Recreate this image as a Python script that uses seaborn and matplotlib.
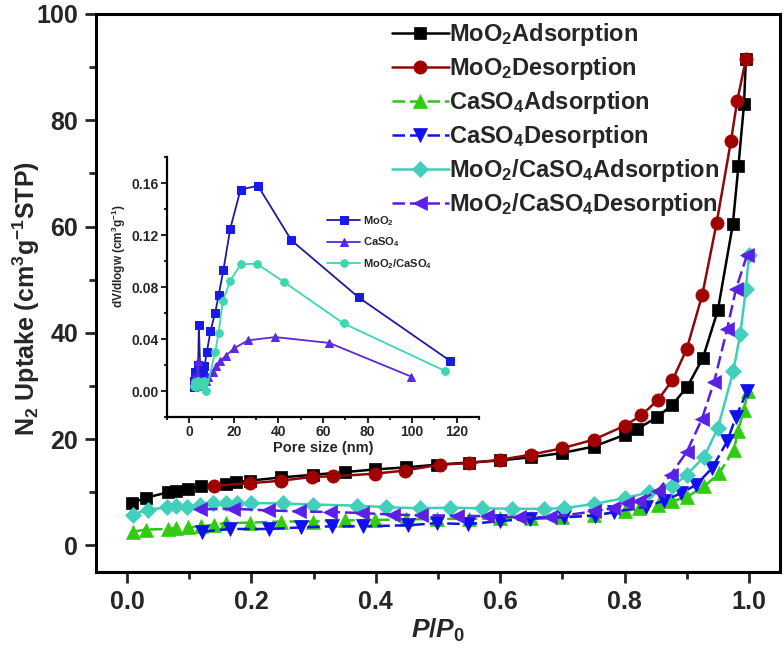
import matplotlib
matplotlib.use("Agg")
import matplotlib.pyplot as plt
import seaborn as sns
from matplotlib.ticker import MultipleLocator, FormatStrFormatter

# N2 isotherms (P/P0, uptake)
moo2_ads_x = [0.008, 0.031, 0.066, 0.079, 0.098, 0.119, 0.159, 0.175, 0.198, 0.248,
              0.299, 0.350, 0.398, 0.449, 0.498, 0.550, 0.600, 0.650, 0.700, 0.750,
              0.800, 0.820, 0.852, 0.877, 0.901, 0.926, 0.950, 0.974, 0.983, 0.992, 0.995]
moo2_ads_y = [8.0, 9.0, 10.0, 10.3, 10.6, 11.1, 11.6, 11.9, 12.2, 12.8,
              13.3, 13.8, 14.3, 14.7, 15.2, 15.6, 16.0, 16.6, 17.4, 18.6,
              20.8, 21.9, 24.1, 26.5, 29.9, 35.3, 44.3, 60.4, 71.4, 83.0, 91.5]
moo2_des_x = [0.995, 0.981, 0.971, 0.948, 0.925, 0.900, 0.877, 0.853, 0.827, 0.800,
              0.750, 0.700, 0.650, 0.599, 0.550, 0.503, 0.447, 0.398, 0.331, 0.298,
              0.248, 0.198, 0.139]
moo2_des_y = [91.5, 83.6, 76.1, 60.7, 47.2, 37.0, 31.1, 27.3, 24.5, 22.5,
              19.9, 18.3, 17.1, 16.1, 15.5, 15.2, 14.1, 13.5, 13.0, 12.9,
              12.2, 11.7, 11.2]
caso4_ads_x = [0.009, 0.031, 0.066, 0.079, 0.098, 0.119, 0.139, 0.159, 0.198, 0.248,
               0.299, 0.350, 0.398, 0.449, 0.498, 0.550, 0.600, 0.650, 0.700, 0.750,
               0.800, 0.823, 0.853, 0.877, 0.901, 0.928, 0.952, 0.976, 0.982, 0.992, 0.998]
caso4_ads_y = [2.6, 3.0, 3.1, 3.3, 3.4, 3.6, 3.9, 4.2, 4.3, 4.5,
               4.5, 4.7, 4.8, 4.9, 5.0, 5.0, 5.1, 5.2, 5.4, 5.7,
               6.4, 7.0, 7.7, 8.3, 9.2, 11.1, 13.6, 18.0, 21.5, 25.5, 29.0]
caso4_des_x = [0.997, 0.979, 0.965, 0.941, 0.915, 0.890, 0.863, 0.834, 0.783, 0.753,
               0.702, 0.648, 0.600, 0.549, 0.499, 0.452, 0.380, 0.329, 0.280, 0.229,
               0.165, 0.121]
caso4_des_y = [29.0, 24.2, 19.6, 14.6, 11.4, 9.8, 8.4, 7.3, 6.3, 5.6,
               5.3, 5.0, 4.6, 4.0, 4.2, 3.8, 3.6, 3.6, 3.4, 3.1,
               3.1, 2.6]
mix_ads_x = [0.009, 0.033, 0.065, 0.079, 0.097, 0.118, 0.138, 0.159, 0.176, 0.200,
             0.250, 0.299, 0.369, 0.417, 0.471, 0.519, 0.570, 0.619, 0.670, 0.702,
             0.750, 0.800, 0.840, 0.877, 0.900, 0.928, 0.950, 0.975, 0.986, 0.995, 1.000]
mix_ads_y = [5.8, 6.7, 7.2, 7.4, 7.3, 7.6, 7.9, 7.9, 7.9, 8.0,
             7.9, 7.7, 7.5, 7.2, 7.0, 7.1, 7.0, 6.9, 6.9, 7.0,
             7.8, 8.9, 10.0, 11.1, 13.3, 16.7, 22.1, 32.9, 39.8, 48.2, 54.7]
mix_des_x = [0.997, 0.979, 0.965, 0.944, 0.924, 0.900, 0.874, 0.853, 0.823, 0.804,
             0.782, 0.750, 0.680, 0.630, 0.579, 0.530, 0.473, 0.428, 0.377, 0.326,
             0.277, 0.226, 0.170, 0.118]
mix_des_y = [54.7, 48.2, 40.8, 30.8, 23.7, 17.6, 13.3, 10.3, 8.3, 8.0,
             7.0, 6.4, 5.3, 5.3, 5.5, 5.6, 5.7, 5.8, 6.1, 6.3,
             6.4, 6.6, 6.9, 6.8]

# pore size distribution (nm, dV/dlogw)
psd_moo2_x = [1.9, 2.3, 2.7, 3.1, 3.5, 4.0, 4.3, 5.0, 6.0, 6.8, 7.9, 9.5, 11.6, 13.2,
              15.3, 18.4, 23.0, 30.8, 45.8, 76.0, 117.2]
psd_moo2_y = [0.003, 0.008, 0.015, 0.012, 0.010, 0.020, 0.051, 0.010, 0.012, 0.019,
              0.030, 0.046, 0.060, 0.074, 0.093, 0.125, 0.155, 0.158, 0.116, 0.072, 0.023]
psd_caso4_x = [1.9, 2.4, 2.9, 3.4, 3.9, 4.5, 5.2, 6.2, 7.3, 8.6, 10.5, 12.0, 13.8,
               16.3, 20.2, 26.4, 38.5, 62.8, 99.7]
psd_caso4_y = [0.010, 0.006, 0.004, 0.008, 0.023, 0.006, 0.004, 0.006, 0.008, 0.011,
               0.015, 0.019, 0.023, 0.027, 0.033, 0.039, 0.0415, 0.037, 0.011]
psd_mix_x = [2.0, 2.6, 3.2, 3.8, 4.5, 5.5, 6.5, 7.6, 11.6, 13.2, 15.0, 18.4, 23.1,
             30.2, 42.4, 69.2, 114.7]
psd_mix_y = [0.004, 0.007, 0.003, 0.008, 0.005, 0.004, 0.008, 0.000, 0.030, 0.045,
             0.069, 0.085, 0.0975, 0.098, 0.084, 0.052, 0.0155]

sns.set_style("ticks")
plt.rcParams["font.family"] = ["Liberation Sans", "DejaVu Sans"]
plt.rcParams["font.weight"] = "bold"
plt.rcParams["mathtext.fontset"] = "custom"
plt.rcParams["mathtext.rm"] = "Liberation Sans:bold"
plt.rcParams["mathtext.it"] = "Liberation Sans:bold:italic"
plt.rcParams["mathtext.bf"] = "Liberation Sans:bold"
plt.rcParams["mathtext.default"] = "rm"

fig = plt.figure(figsize=(7.84, 6.53), dpi=100)
ax = fig.add_axes([0.1224, 0.124, 0.8726, 0.8546])

dash = (0, (5, 2))
series = [
    (moo2_ads_x, moo2_ads_y, "black", "black", "s", 8, "-", r"MoO$_2$Adsorption"),
    (moo2_des_x, moo2_des_y, "#8b0a0a", "#a00000", "o", 9.5, "-", r"MoO$_2$Desorption"),
    (caso4_ads_x, caso4_ads_y, "#2fc41a", "#2fcc10", "^", 10, dash, r"CaSO$_4$Adsorption"),
    (caso4_des_x, caso4_des_y, "#1414e0", "#1010ee", "v", 10, dash, r"CaSO$_4$Desorption"),
    (mix_ads_x, mix_ads_y, "#3ecfb8", "#40d0bc", "D", 8, "-", r"MoO$_2$/CaSO$_4$Adsorption"),
    (mix_des_x, mix_des_y, "#5a1ee0", "#5a20e6", "<", 10, dash, r"MoO$_2$/CaSO$_4$Desorption"),
]
for xs, ys, lc, mc, mk, ms, ls, lab in series:
    sns.lineplot(x=xs, y=ys, ax=ax, sort=False, estimator=None, color=lc,
                 marker=mk, markersize=ms, markerfacecolor=mc, markeredgecolor=mc,
                 markeredgewidth=0.5, linewidth=1.8, linestyle=ls, label=lab)

ax.set_xlim(-0.05, 1.05)
ax.set_ylim(-5, 100)
ax.xaxis.set_major_locator(MultipleLocator(0.2))
ax.xaxis.set_minor_locator(MultipleLocator(0.1))
ax.yaxis.set_major_locator(MultipleLocator(20))
ax.yaxis.set_minor_locator(MultipleLocator(10))
ax.xaxis.set_major_formatter(FormatStrFormatter("%.1f"))
for s in ax.spines.values():
    s.set_linewidth(2.2)
    s.set_color("black")
ax.tick_params(which="major", direction="out", length=8, width=2, pad=5)
ax.tick_params(which="minor", direction="out", length=5, width=2)
for t in ax.get_xticklabels() + ax.get_yticklabels():
    t.set_fontsize(18)
    t.set_fontweight("bold")
ax.set_xlabel(r"$\mathit{P/P}_{\mathrm{0}}$", fontsize=19, fontweight="bold", labelpad=2)
ax.set_ylabel(r"N$_2$ Uptake (cm$^3$g$^{-1}$STP)", fontsize=18, fontweight="bold")
ax.yaxis.set_label_coords(-0.079, 0.49)

leg = ax.legend(loc="upper left", bbox_to_anchor=(392 / 784, 1 - 21 / 653),
                bbox_transform=fig.transFigure, frameon=False,
                prop={"size": 17, "weight": "bold"},
                handlelength=2.4, handletextpad=0.0, labelspacing=0.3,
                borderpad=0, borderaxespad=0)

# inset: pore size distribution
ax2 = fig.add_axes([0.213, 0.3614, 0.398, 0.398])
ax2.patch.set_alpha(0)
inset = [
    (psd_moo2_x, psd_moo2_y, "#1c1c9e", "#1a1ae8", "s", r"MoO$_2$"),
    (psd_caso4_x, psd_caso4_y, "#5a2ad8", "#5a2ae0", "^", r"CaSO$_4$"),
    (psd_mix_x, psd_mix_y, "#3ed6b0", "#3ed6b0", "o", r"MoO$_2$/CaSO$_4$"),
]
for xs, ys, lc, mc, mk, lab in inset:
    sns.lineplot(x=xs, y=ys, ax=ax2, sort=False, estimator=None, color=lc,
                 marker=mk, markersize=5.5, markerfacecolor=mc, markeredgecolor=mc,
                 linewidth=1.3, label=lab)
ax2.set_xlim(-10, 130)
ax2.set_ylim(-0.02, 0.18)
ax2.xaxis.set_major_locator(MultipleLocator(20))
ax2.xaxis.set_minor_locator(MultipleLocator(10))
ax2.yaxis.set_major_locator(MultipleLocator(0.04))
ax2.yaxis.set_minor_locator(MultipleLocator(0.02))
ax2.yaxis.set_major_formatter(FormatStrFormatter("%.2f"))
ax2.spines["top"].set_visible(False)
ax2.spines["right"].set_visible(False)
for s in ("left", "bottom"):
    ax2.spines[s].set_linewidth(1.6)
    ax2.spines[s].set_color("black")
ax2.tick_params(which="major", direction="out", length=4, width=1.5, pad=2)
ax2.tick_params(which="minor", direction="out", length=2.5, width=1.5)
for t in ax2.get_xticklabels() + ax2.get_yticklabels():
    t.set_fontsize(10)
    t.set_fontweight("bold")
ax2.set_xlabel("Pore size (nm)", fontsize=10.5, fontweight="bold", labelpad=1)
ax2.set_ylabel(r"dV/dlogw (cm$^3$g$^{-1}$)", fontsize=8.5, fontweight="bold")
ax2.yaxis.set_label_coords(-0.125, 0.62)
ax2.legend(loc="upper left", bbox_to_anchor=(327 / 784, 1 - 214 / 653),
           bbox_transform=fig.transFigure, frameon=False,
           prop={"size": 8, "weight": "bold"},
           handlelength=3.0, handletextpad=0.2, labelspacing=0.7,
           borderpad=0, borderaxespad=0)

fig.savefig("out.png", dpi=100)
